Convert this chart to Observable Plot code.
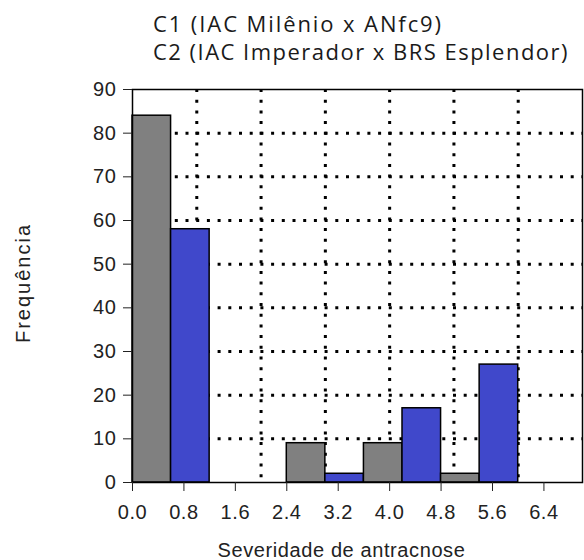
<!DOCTYPE html>
<html>
<head>
<meta charset="utf-8">
<script src="https://cdn.jsdelivr.net/npm/d3@7"></script>
<script src="https://cdn.jsdelivr.net/npm/@observablehq/plot@0.6"></script>
<style>
  body { margin: 0; background: #fff; }
  #header { position: relative; width: 584px; height: 70px; }
  .t { position: absolute; left: 153px; font-family: 'Open Sans', sans-serif; font-size: 22px; line-height: 22px; white-space: nowrap; color: #1a1a1a; }
  svg { display: block; }
</style>
</head>
<body>
<div id="header">
  <span class="t" id="t1" style="top:12px"></span>
  <span class="t" id="t2" style="top:40px"></span>
</div>
<div id="chart"></div>
<script>
// ---- data ----
const titleLines = ["C1 (IAC Milênio x ANfc9)", "C2 (IAC Imperador x BRS Esplendor)"];
const series = ["C1", "C2"];
const seriesColors = ["#808080", "#4048CB"];
const binStart = [0, 1.2, 2.4, 3.6, 4.8];
const binWidth = 1.2;
const c1Values = [84, 0, 9, 9, 2];
const c2Values = [58, 0, 2, 17, 27];
const xTicks = [0, 0.8, 1.6, 2.4, 3.2, 4.0, 4.8, 5.6, 6.4];
const yTicks = [0, 10, 20, 30, 40, 50, 60, 70, 80, 90];
const xGrid = [1, 2, 3, 4, 5, 6];
const yGrid = [10, 20, 30, 40, 50, 60, 70, 80];
const xLabel = "Severidade de antracnose";
const yLabel = "Frequência";

// header text fitted to the reference widths
const t1 = document.getElementById("t1"), t2 = document.getElementById("t2");
t1.textContent = titleLines[0];
t2.textContent = titleLines[1];
function fit(el, target) {
  const w = el.getBoundingClientRect().width;
  const n = el.textContent.length;
  el.style.letterSpacing = ((target - w) / n) + "px";
}
fit(t1, 290);
fit(t2, 416);

// rect rows built from the arrays
const rows = [];
binStart.forEach((s, i) => {
  const half = binWidth / 2;
  rows.push({series: series[0], x1: s, x2: s + half, y: c1Values[i]});
  rows.push({series: series[1], x1: s + half, x2: s + binWidth, y: c2Values[i]});
});
const bars = rows.filter(d => d.y > 0);

const dots = {stroke: "black", strokeOpacity: 1, strokeWidth: 3, strokeDasharray: "3,7.7"};

const chart = Plot.plot({
  width: 584,
  height: 490,
  marginTop: 19,
  marginBottom: 78,
  marginLeft: 132,
  marginRight: 2,
  x: {domain: [0, 7]},
  y: {domain: [0, 90]},
  color: {domain: series, range: seriesColors},
  style: {fontFamily: "'Liberation Sans', Arial, sans-serif", fontSize: "20px", color: "#222", background: "white", letterSpacing: "0.6px"},
  marks: [
    Plot.gridX(xGrid, dots),
    Plot.gridY(yGrid, dots),
    Plot.rect(bars, {x1: "x1", x2: "x2", y1: 0, y2: "y", fill: "series", stroke: "black", strokeWidth: 1.5}),
    Plot.frame({stroke: "black", strokeWidth: 1.5}),
    Plot.axisX(xTicks, {tickFormat: d3.format(".1f"), tickSize: 9, tickPadding: 13, label: null}),
    Plot.axisY(yTicks, {tickSize: 9, tickPadding: 7, label: null}),
    Plot.text([xLabel], {text: d => d, frameAnchor: "bottom", dy: 74, dx: -16, lineAnchor: "bottom", fontSize: 20}),
    Plot.text([yLabel], {text: d => d, frameAnchor: "left", textAnchor: "middle", dx: -109, dy: -3, rotate: -90, fontSize: 20})
  ]
});
document.getElementById("chart").appendChild(chart);
d3.select(chart).selectAll("text").filter(function() { return this.textContent === yLabel; })
  .style("letter-spacing", "2px");
</script>
</body>
</html>
